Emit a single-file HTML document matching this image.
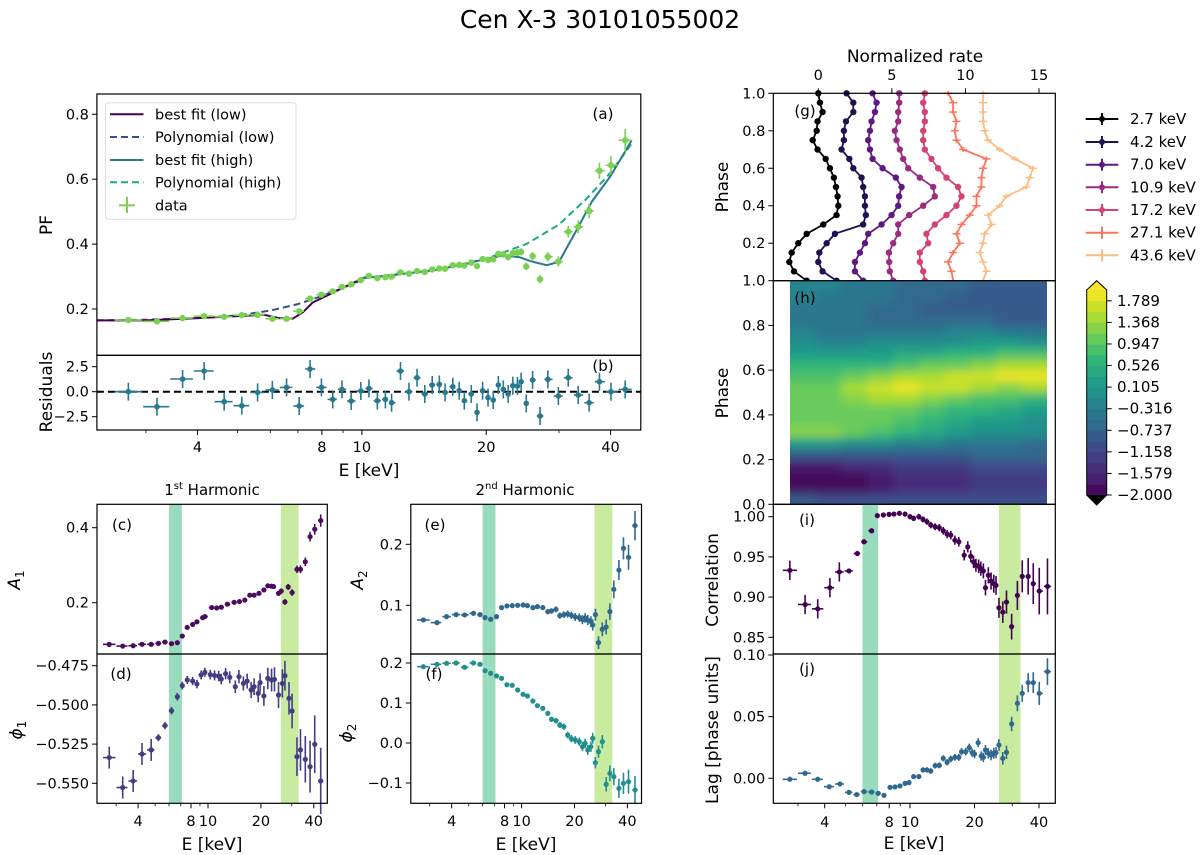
<!DOCTYPE html>
<html><head><meta charset="utf-8"><title>Cen X-3 30101055002</title>
<style>
html,body{margin:0;padding:0;background:#fff;}
svg{display:block;font-family:"DejaVu Sans","Liberation Sans",sans-serif;}
</style></head>
<body>
<svg id="fig" width="1200" height="855" viewBox="0 0 1200 855" xmlns="http://www.w3.org/2000/svg">
<defs>
<filter id="blur" x="0" y="0" width="1" height="1"><feGaussianBlur stdDeviation="4.5"/></filter>
<clipPath id="hclip"><rect x="790" y="280.7" width="257" height="223.6"/></clipPath>
</defs>
<text x="600" y="28" font-size="25" text-anchor="middle">Cen X-3 30101055002</text>
</svg>
<script>
// ---------- data: panel (a) PF and (b) residuals ----------
const energyA=[2.72,3.19,3.68,4.15,4.64,5.12,5.59,6.07,6.57,7.05,7.49,7.98,8.50,8.95,9.42,9.94,10.4,10.9,11.4,11.8,12.4,13.0,13.6,14.2,14.8,15.4,15.9,16.6,17.2,17.7,18.4,19.0,19.6,20.2,20.8,21.4,22.0,22.6,23.2,23.8,24.3,25.0,25.9,27.0,28.2,29.9,31.6,33.4,35.5,37.6,40.1,43.4];
const pfValues=[.166,.162,.172,.178,.176,.181,.182,.170,.170,.193,.232,.244,.254,.268,.276,.289,.302,.295,.298,.300,.313,.309,.317,.314,.322,.325,.324,.335,.336,.334,.343,.332,.354,.351,.353,.370,.368,.360,.372,.374,.376,.331,.363,.292,.361,.346,.438,.453,.502,.626,.643,.720];
const residValues=[0.0,-1.5,1.27,2.07,-1.0,-1.4,-0.07,0.17,0.43,-1.43,2.27,0.43,-0.77,0.23,-0.93,0.07,0.33,-0.9,-0.77,-1.1,2.07,0,1.4,-0.23,0.67,0.73,-0.07,0.5,0.1,-0.9,-0.23,-2.07,0.1,-0.6,-0.83,0.67,0.23,-0.23,0.6,0.57,1.0,-1.17,1.17,-2.43,1.23,-0.43,1.4,-0.33,-1.1,1.0,0,0.23];
const fitLowE=[2.28,3,4,5,5.8,6.3,6.8,7.2,7.6,8.5,9.5,10.3];
const fitLowPF=[.165,.165,.172,.178,.182,.172,.170,.19,.22,.25,.28,.30];
const polyLowE=[2.28,3,4,5,6,7,8,9,10];
const polyLowPF=[.165,.167,.172,.18,.195,.215,.24,.265,.29];
const fitHighE=[10,12,15,18,20,22,24,26,28,30,33,36,40,45];
const fitHighPF=[.295,.305,.32,.34,.355,.365,.36,.345,.335,.345,.44,.53,.61,.72];
const polyHighE=[10,15,20,25,30,35,40,45];
const polyHighPF=[.295,.32,.355,.40,.46,.54,.62,.71];
// ---------- panel (c) A1 ----------
const energyC=[2.74,3.27,3.75,4.21,4.75,5.22,5.69,6.20,6.69,7.14,7.62,8.18,8.65,9.33,9.6,10.5,11.2,11.9,12.9,14.1,15.1,16.2,17.3,18.3,19.5,20.8,21.9,23.0,23.6,25.2,26.1,27.4,28.6,30.1,32.1,33.6,35.8,38.1,40.5,43.8];
const a1Values=[.0889,.0844,.0853,.089,.089,.0916,.095,.0907,.0933,.111,.134,.142,.149,.160,.163,.187,.186,.188,.196,.201,.203,.207,.220,.220,.225,.234,.245,.244,.243,.225,.231,.202,.242,.227,.289,.289,.309,.376,.396,.419];
// ---------- panel (d) phi1 ----------
const energyD=[2.74,3.27,3.75,4.21,4.75,5.22,5.69,6.20,6.69,7.14,7.62,8.18,8.65,9.14,9.6,10.3,10.9,11.5,11.9,12.6,13.3,14.3,15.0,15.9,16.7,17.6,18.3,19.3,19.8,20.8,21.9,23.0,23.9,25.2,26.5,27.4,28.9,30.1,32.1,33.6,35.8,38.1,40.5,43.8];
const phi1Values=[-.5336,-.5527,-.5485,-.5313,-.5287,-.5209,-.5132,-.5037,-.4948,-.4877,-.4841,-.4848,-.4867,-.4809,-.4792,-.4807,-.4812,-.4816,-.4835,-.4801,-.4824,-.4884,-.4820,-.4863,-.4848,-.4905,-.4884,-.4926,-.4858,-.4943,-.4831,-.4841,-.4837,-.4937,-.4863,-.4814,-.4958,-.5039,-.5330,-.5287,-.5347,-.5394,-.5251,-.5485];
// ---------- panels (e),(f) ----------
const energyE=[2.76,3.30,3.74,4.24,4.74,5.32,5.80,6.19,6.67,7.20,7.69,8.25,8.85,9.50,10.2,10.8,11.6,12.3,13.2,14.1,14.8,15.7,16.5,17.4,18.3,19.2,20.2,21.3,22.2,23.0,23.8,24.8,25.4,26.3,27.4,28.8,30.3,31.8,33.5,35.8,38.0,40.6,44.2];
const a2Values=[.0760,.0716,.0814,.0847,.0842,.0869,.0847,.0798,.0770,.0814,.0962,.0989,.0995,.1000,.1005,.0995,.0962,.0978,.0962,.0896,.0907,.0934,.0831,.0847,.0858,.0836,.0809,.0798,.0765,.0792,.0760,.0732,.0678,.0847,.0388,.0607,.0645,.0896,.1262,.1579,.1934,.1787,.2306];
const phi2Values=[.1908,.1967,.1992,.2,.1892,.2,.1967,.1808,.1742,.1675,.1617,.1458,.1442,.1325,.1217,.1175,.105,.0933,.0867,.0742,.0592,.0558,.045,.0408,.02,.0108,.0075,.0033,-.0092,-.0008,-.0175,-.0092,.0117,-.0492,-.0217,.0033,-.1033,-.0758,-.0842,-.1133,-.1008,-.0967,-.1175];
// ---------- panels (i),(j) ----------
const energyI=[2.75,3.24,3.71,4.23,4.68,5.19,5.68,6.10,6.62,7.04,7.51,7.98,8.42,8.92,9.48,10.0,10.4,11.0,11.5,12.0,12.5,13.1,13.7,14.3,14.9,15.5,16.2,16.9,17.9,18.6,19.2,19.8,20.3,20.9,21.4,22.0,22.5,23.2,23.9,24.6,25.2,26.0,27.1,28.2,29.8,31.7,33.4,35.6,37.6,40.1,43.8];
const corrValues=[.9333,.8908,.8854,.9117,.9313,.9325,.9542,.9688,.9825,1.0013,1.0021,1.0029,1.0033,1.0042,1.0033,1.0,.9979,1.0,.9967,.9938,.9896,.9875,.9863,.9825,.9783,.9771,.9708,.9688,.9521,.9625,.9508,.9438,.9396,.9383,.9354,.9325,.9117,.9271,.92,.9167,.9146,.8867,.8813,.8938,.8633,.9021,.9258,.9258,.9167,.9075,.9133];
const energyJ=[2.75,3.24,3.71,4.20,4.71,5.19,5.64,6.10,6.62,7.11,7.56,8.07,8.51,8.98,9.48,9.89,10.4,11.0,11.5,12.0,12.5,13.1,13.7,14.3,14.9,15.5,16.2,16.9,17.4,18.2,18.9,19.5,20.0,20.8,21.5,22.0,22.5,23.2,23.9,24.6,25.2,26.0,27.1,28.2,29.8,31.7,33.4,35.6,37.6,40.1,43.8];
const lagValues=[-.0008,.0041,-.0008,-.0068,-.0046,-.0114,-.0132,-.0108,-.0111,-.0122,-.0138,-.0073,-.0070,-.0062,-.0041,-.0035,.0014,.0014,.0068,.0068,.0059,.0103,.0105,.0162,.0130,.0157,.0170,.0170,.0216,.0216,.0249,.0208,.0197,.0289,.0181,.0170,.0230,.0203,.0189,.0203,.0208,.0270,.0162,.0211,.0441,.0608,.0689,.0776,.0776,.0689,.0865];
// ---------- panel (g) pulse profiles ----------
const profilePhase=[0,.05,.1,.15,.2,.25,.3,.35,.4,.45,.5,.55,.6,.65,.7,.75,.8,.85,.9,.95,1.0];
const profileLabels=["2.7 keV","4.2 keV","7.0 keV","10.9 keV","17.2 keV","27.1 keV","43.6 keV"];
const rate27=[-.79,-1.65,-1.97,-1.81,-1.36,-.79,.34,1.24,1.36,1.31,1.20,1.06,.79,.50,-.05,-.38,-.11,-.05,.29,.11,0];
const rate42=[1.24,.29,0,.07,.57,1.13,3.05,3.23,3.17,3.17,3.05,2.94,2.38,2.11,1.58,1.74,1.74,1.88,2.38,2.38,1.92];
const rate70=[3.05,2.49,2.49,2.83,3.17,3.39,4.30,4.98,5.43,5.49,5.66,5.27,4.37,3.69,3.51,3.39,3.51,3.62,3.85,3.96,3.69];
const rate109=[5.09,4.86,4.82,4.80,5.09,5.43,5.43,6.18,7.13,7.92,7.81,6.90,6.11,5.77,5.54,5.32,5.20,5.43,5.43,5.50,5.50];
const rate172=[7.24,7.13,6.90,6.90,7.47,7.35,7.92,8.71,9.39,9.73,9.50,8.71,8.14,7.69,7.24,7.13,7.13,7.24,7.24,7.13,7.24];
const rate271=[9.16,9.05,8.82,9.16,9.62,9.39,9.73,10.29,10.75,10.75,11.09,11.09,11.20,11.43,9.84,9.39,9.28,9.39,9.16,9.16,8.82];
const rate436=[11.20,11.43,11.20,10.97,11.20,11.31,11.77,11.54,12.33,12.78,14.14,14.37,14.59,13.35,12.33,11.54,11.31,11.20,11.20,11.20,11.20];
// ---------- panel (h) heatmap ----------
const heatEnergy=[3.16,4.17,5.50,7.24,9.55,12.6,16.6,21.9,28.8,38.0];
const heatPhase=[.025,.075,.125,.175,.225,.275,.325,.375,.425,.475,.525,.575,.625,.675,.725,.775,.825,.875,.925,.975];
const heatValues=[
[-0.9,-1.0,-1.0,-1.1,-1.1,-1.1,-1.1,-1.0,-1.0,-1.0],
[-1.9,-1.9,-1.8,-1.6,-1.5,-1.5,-1.4,-1.3,-1.3,-1.3],
[-1.95,-1.9,-1.8,-1.6,-1.5,-1.5,-1.4,-1.3,-1.3,-1.3],
[-1.6,-1.6,-1.5,-1.4,-1.3,-1.3,-1.2,-1.1,-1.1,-1.1],
[-0.9,-0.9,-0.9,-0.8,-0.8,-0.8,-0.8,-0.7,-0.7,-0.7],
[0.3,0.2,0.0,-0.1,-0.2,-0.3,-0.4,-0.5,-0.5,-0.6],
[1.2,1.2,1.0,0.8,0.6,0.4,0.2,0.1,0.0,-0.1],
[1.1,1.0,1.0,1.0,0.8,0.6,0.4,0.3,0.2,0.1],
[1.0,1.1,1.1,1.0,1.0,0.9,0.7,0.6,0.4,0.3],
[1.0,1.1,1.3,1.5,1.4,1.3,1.1,0.9,0.8,0.6],
[1.0,1.1,1.4,1.7,1.8,1.7,1.6,1.4,1.3,1.4],
[0.9,0.9,1.0,1.2,1.4,1.5,1.6,1.6,1.8,1.8],
[0.6,0.6,0.6,0.7,0.8,1.0,1.1,1.2,1.4,1.4],
[0.2,0.2,0.2,0.3,0.4,0.5,0.6,0.7,0.9,0.8],
[-0.1,-0.2,-0.2,-0.1,0.0,0.0,0.1,0.2,0.3,0.1],
[-0.3,-0.4,-0.4,-0.4,-0.4,-0.4,-0.3,-0.3,-0.4,-0.5],
[-0.4,-0.5,-0.5,-0.6,-0.6,-0.7,-0.7,-0.7,-0.8,-0.9],
[-0.4,-0.5,-0.5,-0.6,-0.7,-0.8,-0.8,-0.8,-0.9,-0.9],
[-0.3,-0.4,-0.5,-0.5,-0.6,-0.7,-0.8,-0.8,-0.9,-0.9],
[-0.2,-0.3,-0.4,-0.5,-0.6,-0.6,-0.7,-0.8,-0.8,-0.9]];
const cbarTicks=[1.789,1.368,0.947,0.526,0.105,-0.316,-0.737,-1.158,-1.579,-2.000];
const bandRanges=[[6.0,7.1],[26.0,32.8]];

// ---------- helpers ----------
const NS='http://www.w3.org/2000/svg';
const svg=document.getElementById('fig');
function el(tag,attrs,parent,name){
  const e=document.createElementNS(NS,tag);
  for(const k in attrs) e.setAttribute(k,attrs[k]);
  
  
  (parent||svg).appendChild(e);
  return e;
}
function txt(x,y,s,size,anchor,parent,name,extra){
  const t=el('text',Object.assign({x:x,y:y,'font-size':size,'text-anchor':anchor||'middle'},extra||{}),parent,name);
  t.textContent=s; return t;
}
const logS=(ref,dec)=>E=>ref+dec*(Math.log10(E)-1);
const linS=(v1,p1,v2,p2)=>v=>p1+(v-v1)*(p2-p1)/(v2-v1);
const fmtMinus=s=>s.replace('-','\u2212');

function frame(x0,y0,x1,y1,name){
  el('rect',{x:x0,y:y0,width:x1-x0,height:y1-y0,fill:'none',stroke:'#000','stroke-width':1.2},svg,name);
}
function yTicks(x0,sy,vals,labels,name){
  const g=el('g',{},svg,name);
  vals.forEach((v,i)=>{
    const y=sy(v);
    el('line',{x1:x0-5,x2:x0,y1:y,y2:y,stroke:'#000','stroke-width':1},g,'y-tick');
    txt(x0-8,y+5,fmtMinus(labels[i]),14.5,'end',g,'y-tick-label');
  });
}
function xLogTicks(sx,yb,lo,hi,labelY,name){
  const g=el('g',{},svg,name);
  const majors=[4,8,10,20,40];
  [3,4,5,6,7,8,9,10,20,30,40].forEach(E=>{
    if(E<lo||E>hi) return;
    const x=sx(E), maj=majors.includes(E);
    el('line',{x1:x,x2:x,y1:yb,y2:yb+(maj?5:3),stroke:'#000','stroke-width':maj?1:0.8},g,'x-tick');
    if(maj) txt(x,labelY,String(E),14.5,'middle',g,'x-tick-label');
  });
}
function bands(sx,y0,y1,name){
  const cols=['#98dcbd','#c8eba0'];
  bandRanges.forEach((b,i)=>{
    el('rect',{x:sx(b[0]),y:y0,width:sx(b[1])-sx(b[0]),height:y1-y0,fill:cols[i]},svg,name+'-band-'+(i+1));
  });
}
function errPoints(Es,vals,sx,sy,color,errFn,r,name,xerr){
  const g=el('g',{fill:color,stroke:color},svg,name);
  Es.forEach((E,i)=>{
    const x=sx(E), y=sy(vals[i]);
    const lo=i>0?Math.sqrt(Es[i-1]*E):E/Math.sqrt(Es[1]/Es[0]);
    const hi=i<Es.length-1?Math.sqrt(Es[i+1]*E):E*Math.sqrt(E/Es[i-1]);
    const e=errFn(E);
    el('line',{x1:x,x2:x,y1:sy(vals[i]-e),y2:sy(vals[i]+e),'stroke-width':1.6},g,'error-bar');
    if(xerr!==false) el('line',{x1:sx(lo)+0.5,x2:sx(hi)-0.5,y1:y,y2:y,'stroke-width':1.6},g,'error-bar');
    if(r>0) el('circle',{cx:x,cy:y,r:r,stroke:'none'},g,'data-point');
  });
}
function linePath(Es,vals,sx,sy,color,dash,w,name){
  const d=Es.map((E,i)=>(i?'L':'M')+sx(E).toFixed(1)+','+sy(vals[i]).toFixed(1)).join('');
  el('path',{d:d,fill:'none',stroke:color,'stroke-width':w,'stroke-dasharray':dash||'none','stroke-linejoin':'round'},svg,name);
}
function ylab(x,y,s,name,size){
  txt(x,y,s,size||17,'middle',svg,name,{transform:'rotate(-90 '+x+' '+y+')'});
}
const VIR=['#440154','#482878','#3e4989','#31688e','#26828e','#1f9e89','#35b779','#6ece58','#b5de2b','#fde725'];
function hex(c){return [1,3,5].map(i=>parseInt(c.substr(i,2),16));}
function viridis(t){
  t=Math.max(0,Math.min(1,t)); const f=t*9, i=Math.min(8,Math.floor(f)), u=f-i;
  const a=hex(VIR[i]), b=hex(VIR[i+1]);
  return 'rgb('+a.map((v,k)=>Math.round(v+(b[k]-v)*u)).join(',')+')';
}
const NLEV=19, VMIN=-2, VMAX=2;
function levelColor(v){
  let k=Math.floor((v-VMIN)/((VMAX-VMIN)/NLEV)); k=Math.max(0,Math.min(NLEV-1,k));
  return viridis((k+0.5)/NLEV);
}

// ================= panel (a) / (b) =================
const sxA=logS(361.9,413);
const syA=linS(0.8,114.3,0.2,309);
const syB=linS(2.5,366.7,-2.5,416.7);
linePath(polyLowE,polyLowPF,sxA,syA,'#3b4f8a','7,4',2,'polynomial-low-line');
linePath(polyHighE,polyHighPF,sxA,syA,'#20a784','7,4',2,'polynomial-high-line');
linePath(fitLowE,fitLowPF,sxA,syA,'#440154','',2,'best-fit-low-line');
linePath(fitHighE,fitHighPF,sxA,syA,'#2a788e','',2,'best-fit-high-line');
errPoints(energyA,pfValues,sxA,syA,'#7ad151',E=>0.004+0.03*Math.pow(E/43,2.5),3.2,'pf-data');
frame(96.9,94,640.8,355.3,'panel-a-frame');
yTicks(96.9,syA,[0.2,0.4,0.6,0.8],['0.2','0.4','0.6','0.8'],'panel-a-y-ticks');
ylab(52,225,'PF','pf-axis-title');
txt(603,119,'(a)',15,'middle',svg,'panel-a-label');
// legend
(function(){
  const g=el('g',{},svg,'panel-a-legend');
  el('rect',{x:105.4,y:102.7,width:190.6,height:116.6,fill:'#fff',stroke:'#ddd','stroke-width':1,rx:3},g,'legend-box');
  const rows=[['best fit (low)','#440154',''],['Polynomial (low)','#3b4f8a','7,4'],['best fit (high)','#2a788e',''],['Polynomial (high)','#20a784','7,4']];
  const ys=[114.3,137,160,182.3,205.3];
  rows.forEach((r,i)=>{
    const e=el('g',{},g,'legend-entry');
    el('line',{x1:110,x2:143.5,y1:ys[i],y2:ys[i],stroke:r[1],'stroke-width':2,'stroke-dasharray':r[2]||'none'},e,'legend-line');
    txt(155,ys[i]+5,r[0],14.5,'start',e,'legend-text');
  });
  const e=el('g',{stroke:'#7ad151'},g,'legend-entry');
  el('line',{x1:119,x2:135,y1:205.3,y2:205.3,'stroke-width':2},e,'legend-marker');
  el('line',{x1:127,x2:127,y1:197,y2:213,'stroke-width':2},e,'legend-marker');
  txt(155,210.3,'data',14.5,'start',e,'legend-text',{stroke:'none'});
})();
// residuals
el('line',{x1:96.9,x2:640.8,y1:syB(0),y2:syB(0),stroke:'#000','stroke-width':2,'stroke-dasharray':'7,4'},svg,'zero-line');
errPoints(energyA,residValues,sxA,syB,'#2a788e',E=>0.9,2.8,'residual-data');
frame(96.9,355.3,640.8,430,'panel-b-frame');
yTicks(96.9,syB,[2.5,0,-2.5],['2.5','0.0','-2.5'],'panel-b-y-ticks');
xLogTicks(sxA,430,2.28,47.3,452,'panel-b-x-ticks');
ylab(52,392,'Residuals','residuals-axis-title');
txt(603,371,'(b)',15,'middle',svg,'panel-b-label');
txt(369,476,'E [keV]',17,'middle',svg,'panel-ab-x-axis-title');

// ================= panels (c) (d) =================
const sxC=logS(208,175.7);
const syC=linS(0.4,527.7,0.2,602.7);
const syD=linS(-0.475,665.7,-0.55,783.3);
bands(sxC,504.3,803.3,'panel-cd');
errPoints(energyC,a1Values,sxC,syC,'#4b0c60',E=>0.002+0.012*Math.pow(E/40,2),2.6,'a1-data');
errPoints(energyD,phi1Values,sxC,syD,'#433d84',E=>E<5?0.007:0.002+0.009*Math.pow(E/30,2),2.6,'phi1-data');
frame(97,504.3,327.3,654,'panel-c-frame');
frame(97,654,327.3,803.3,'panel-d-frame');
yTicks(97,syC,[0.2,0.4],['0.2','0.4'],'panel-c-y-ticks');
yTicks(97,syD,[-0.475,-0.5,-0.525,-0.55],['-0.475','-0.500','-0.525','-0.550'],'panel-d-y-ticks');
xLogTicks(sxC,803.3,2.33,47.7,826,'panel-d-x-ticks');
txt(122,530,'(c)',15,'middle',svg,'panel-c-label');
txt(121,679,'(d)',15,'middle',svg,'panel-d-label');
(function(){const t=txt(212,495,'',15,'middle',svg,'harmonic-1-title');
 t.innerHTML='1<tspan font-size="10" dy="-6">st</tspan><tspan dy="6"> Harmonic</tspan>';})();
(function(){const x=20,y=580;const t=txt(x,y,'',17,'middle',svg,'a1-axis-title',{transform:'rotate(-90 '+x+' '+y+')'});
 t.innerHTML='<tspan font-style="italic">A</tspan><tspan font-size="12" dy="4">1</tspan>';})();
(function(){const x=22,y=730;const t=txt(x,y,'',17,'middle',svg,'phi1-axis-title',{transform:'rotate(-90 '+x+' '+y+')'});
 t.innerHTML='<tspan font-style="italic">\u03d5</tspan><tspan font-size="12" dy="4">1</tspan>';})();
txt(212,850,'E [keV]',17,'middle',svg,'panel-cd-x-axis-title');

// ================= panels (e) (f) =================
const sxE=logS(521.6,175.7);
const syE=linS(0.2,544.3,0.1,605.3);
const syF=linS(0.2,663,-0.1,783);
bands(sxE,504.3,803.3,'panel-ef');
errPoints(energyE,a2Values,sxE,syE,'#31688e',E=>0.002+0.018*Math.pow(E/40,2),2.6,'a2-data');
errPoints(energyE,phi2Values,sxE,syF,'#21908d',E=>0.003+0.02*Math.pow(E/35,2),2.6,'phi2-data');
frame(410.8,504.3,641.5,654,'panel-e-frame');
frame(410.8,654,641.5,803.3,'panel-f-frame');
yTicks(410.8,syE,[0.1,0.2],['0.1','0.2'],'panel-e-y-ticks');
yTicks(410.8,syF,[-0.1,0,0.1,0.2],['-0.1','0.0','0.1','0.2'],'panel-f-y-ticks');
xLogTicks(sxE,803.3,2.33,47.7,826,'panel-f-x-ticks');
txt(435,530,'(e)',15,'middle',svg,'panel-e-label');
txt(434,679,'(f)',15,'middle',svg,'panel-f-label');
(function(){const t=txt(525,495,'',15,'middle',svg,'harmonic-2-title');
 t.innerHTML='2<tspan font-size="10" dy="-6">nd</tspan><tspan dy="6"> Harmonic</tspan>';})();
(function(){const x=363,y=580;const t=txt(x,y,'',17,'middle',svg,'a2-axis-title',{transform:'rotate(-90 '+x+' '+y+')'});
 t.innerHTML='<tspan font-style="italic">A</tspan><tspan font-size="12" dy="4">2</tspan>';})();
(function(){const x=352,y=733;const t=txt(x,y,'',17,'middle',svg,'phi2-axis-title',{transform:'rotate(-90 '+x+' '+y+')'});
 t.innerHTML='<tspan font-style="italic">\u03d5</tspan><tspan font-size="12" dy="4">2</tspan>';})();
txt(526,850,'E [keV]',17,'middle',svg,'panel-ef-x-axis-title');

// ================= panel (g) profiles =================
const sxG=linS(0,818.3,15,1039);
const syG=linS(0,280.7,1,93.3);
const profileRates=[rate27,rate42,rate70,rate109,rate172,rate271,rate436];
const profileColors=['#000004','#221150','#5f187f','#982d80','#d3436e','#f8765c','#febb81'];
profileRates.forEach((rates,k)=>{
  const g=el('g',{stroke:profileColors[k],fill:profileColors[k]},svg,'profile-'+profileLabels[k].replace(/[ .]/g,'-'));
  const d=profilePhase.map((p,i)=>(i?'L':'M')+sxG(rates[i]).toFixed(1)+','+syG(p).toFixed(1)).join('');
  el('path',{d:d,fill:'none','stroke-width':1.8},g,'profile-line');
  const hw=k<5?2:4;
  profilePhase.forEach((p,i)=>{
    const x=sxG(rates[i]), y=syG(p);
    el('line',{x1:x-hw,x2:x+hw,y1:y,y2:y,'stroke-width':1.5},g,'profile-error-bar');
    if(k<5) el('circle',{cx:x,cy:y,r:3.2,stroke:'none'},g,'profile-point');
    else el('line',{x1:x,x2:x,y1:y-2.5,y2:y+2.5,'stroke-width':1.5},g,'profile-error-bar');
  });
});
frame(773.3,93.3,1055.3,280.7,'panel-g-frame');
yTicks(773.3,syG,[0,0.2,0.4,0.6,0.8,1.0],['1.0','0.2','0.4','0.6','0.8','1.0'],'panel-g-y-ticks');
(function(){const g=el('g',{},svg,'panel-g-top-ticks');
 [0,5,10,15].forEach(v=>{const x=sxG(v);
  el('line',{x1:x,x2:x,y1:93.3,y2:88.3,stroke:'#000'},g,'top-tick');
  txt(x,80,String(v),14.5,'middle',g,'top-tick-label');});})();
txt(915,62,'Normalized rate',17,'middle',svg,'normalized-rate-axis-title');
ylab(728,187,'Phase','panel-g-y-axis-title');
txt(805,116,'(g)',15,'middle',svg,'panel-g-label');
(function(){const g=el('g',{},svg,'profile-legend');
 const ys=[119,142,164.7,187.3,210,232.7,255.3];
 profileLabels.forEach((s,k)=>{const e=el('g',{stroke:profileColors[k],fill:profileColors[k]},g,'legend-entry');
  el('line',{x1:1085.7,x2:1118.3,y1:ys[k],y2:ys[k],'stroke-width':2},e,'legend-line');
  el('line',{x1:1102,x2:1102,y1:ys[k]-6,y2:ys[k]+6,'stroke-width':2},e,'legend-line');
  if(k<5) el('circle',{cx:1102,cy:ys[k],r:3,stroke:'none'},e,'legend-marker');
  txt(1130,ys[k]+5,s,15,'start',e,'legend-text',{fill:'#000',stroke:'none'});});})();

// ================= panel (h) heatmap =================
const sxH=logS(910,214.3);
const syH=linS(0,504.3,1,280.7);
(function(){
  const g=el('g',{'clip-path':'url(#hclip)'},svg,'heatmap');
  const gi=el('g',{filter:'url(#blur)'},g,'heatmap-cells');
  const dl=Math.log10(heatEnergy[1])-Math.log10(heatEnergy[0]);
  const dp=heatPhase[1]-heatPhase[0];
  heatPhase.forEach((p,r)=>{heatEnergy.forEach((E,c)=>{
    const x0=sxH(Math.pow(10,Math.log10(E)-dl/2)), x1=sxH(Math.pow(10,Math.log10(E)+dl/2));
    const y0=syH(p+dp/2), y1=syH(p-dp/2);
    const padL=c===0?12:0, padR=c===heatEnergy.length-1?12:0;
    const padT=r===heatPhase.length-1?12:0, padB=r===0?12:0;
    el('rect',{x:x0-padL,y:y0-padT,width:x1-x0+padL+padR+0.6,height:y1-y0+padT+padB+0.6,fill:levelColor(heatValues[r][c])},gi,'heatmap-cell');
  });});
})();
frame(773.3,280.7,1055.3,504.3,'panel-h-frame');
yTicks(773.3,syH,[0,0.2,0.4,0.6,0.8],['0.0','0.2','0.4','0.6','0.8'],'panel-h-y-ticks');
ylab(728,393,'Phase','panel-h-y-axis-title');
txt(805,303,'(h)',15,'middle',svg,'panel-h-label');
// colorbar
(function(){
  const g=el('g',{},svg,'colorbar');
  const cy=linS(-2,495,2,290);
  const step=(VMAX-VMIN)/NLEV;
  for(let k=0;k<NLEV;k++){
    const v0=VMIN+k*step, v1=v0+step;
    el('rect',{x:1086.7,y:cy(v1),width:20,height:cy(v0)-cy(v1)+0.5,fill:viridis((k+0.5)/NLEV)},g,'colorbar-level');
  }
  el('polygon',{points:'1086.7,290 1096.7,280.7 1106.7,290',fill:'#fde725'},g,'colorbar-extend-max');
  el('polygon',{points:'1086.7,495 1096.7,505 1106.7,495',fill:'#000'},g,'colorbar-extend-min');
  el('polygon',{points:'1086.7,290 1096.7,280.7 1106.7,290 1106.7,495 1096.7,505 1086.7,495',fill:'none',stroke:'#000','stroke-width':1},g,'colorbar-outline');
  cbarTicks.forEach(v=>{const y=cy(v);
    el('line',{x1:1106.7,x2:1111.7,y1:y,y2:y,stroke:'#000'},g,'colorbar-tick');
    txt(1117,y+5,fmtMinus(v.toFixed(3)),15,'start',g,'colorbar-tick-label');});
})();

// ================= panels (i) (j) =================
const sxI=logS(910,214.3);
const syI=linS(1.0,516.7,0.85,637.3);
const syJ=linS(0.1,655,0,778.3);
bands(sxI,504.3,803.3,'panel-ij');
errPoints(energyI,corrValues,sxI,syI,'#440154',E=>E<5?0.012:0.002+0.02*Math.pow(E/35,2.2),2.6,'correlation-data');
errPoints(energyJ,lagValues,sxI,syJ,'#31688e',E=>0.0015+0.006*Math.pow(E/35,2),2.6,'lag-data');
frame(773.3,504.3,1055.3,654,'panel-i-frame');
frame(773.3,654,1055.3,803.3,'panel-j-frame');
yTicks(773.3,syI,[0.85,0.9,0.95,1.0],['0.85','0.90','0.95','1.00'],'panel-i-y-ticks');
yTicks(773.3,syJ,[0,0.05,0.1],['0.00','0.05','0.10'],'panel-j-y-ticks');
xLogTicks(sxI,803.3,2.3,47.6,827,'panel-j-x-ticks');
ylab(718,580,'Correlation','correlation-axis-title');
ylab(718,730,'Lag [phase units]','lag-axis-title');
txt(807,525,'(i)',15,'middle',svg,'panel-i-label');
txt(807,674,'(j)',15,'middle',svg,'panel-j-label');
txt(914,849,'E [keV]',17,'middle',svg,'panel-ij-x-axis-title');
</script>
</body></html>
